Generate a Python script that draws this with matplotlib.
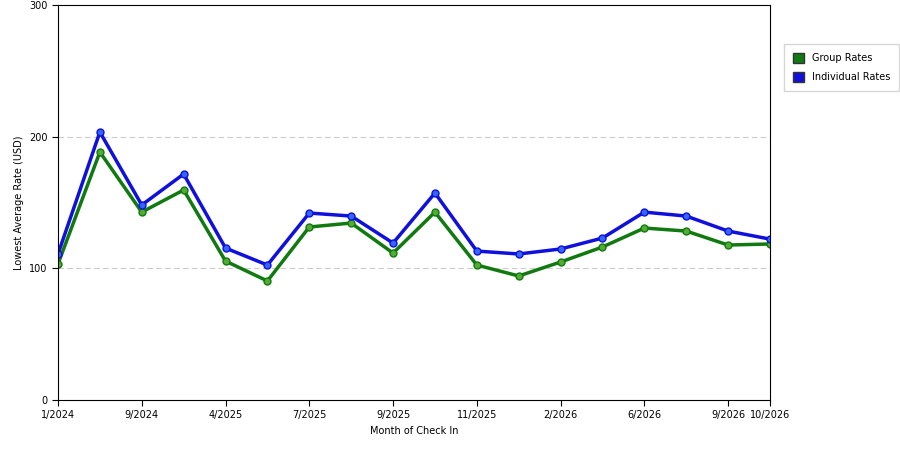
import matplotlib
matplotlib.use("Agg")
import matplotlib.pyplot as plt
from matplotlib.patches import Patch

x_idx = list(range(18))
tick_pos = [0, 2, 4, 6, 8, 10, 12, 14, 16, 17]
tick_labels = ["1/2024", "9/2024", "4/2025", "7/2025", "9/2025", "11/2025", "2/2026", "6/2026", "9/2026", "10/2026"]
group_rates = [103.3, 188.3, 142.7, 159.5, 105.5, 90.4, 131.4, 134.4, 111.6, 142.7, 102.5, 94.2, 104.8, 116.2, 130.6, 128.3, 117.7, 118.5]
indiv_rates = [110.9, 203.5, 148.1, 171.6, 115.4, 102.5, 142.0, 139.7, 119.2, 157.2, 113.1, 110.9, 114.7, 123.0, 142.7, 139.7, 128.3, 122.2]

fig = plt.figure(figsize=(9, 4.5), dpi=100)
ax = fig.add_axes([58/900, 50/450, 712/900, 395/450])
for y in (100, 200):
    ax.axhline(y, color="#cccccc", lw=0.8, ls=(0, (5, 3)), zorder=0)
ax.plot(x_idx, group_rates, color="#107a10", lw=2.5, marker="o", ms=5,
        mfc="#55aa33", mec="#107a10")
ax.plot(x_idx, indiv_rates, color="#1010dd", lw=2.5, marker="o", ms=5,
        mfc="#3366ff", mec="#1010dd")
ax.set_xlim(0, 17)
ax.set_ylim(0, 300)
ax.set_yticks([0, 100, 200, 300])
ax.set_xticks(tick_pos)
ax.set_xticklabels(tick_labels)
ax.tick_params(labelsize=7, length=4)
ax.set_xlabel("Month of Check In", fontsize=7)
ax.set_ylabel("Lowest Average Rate (USD)", fontsize=7)
fig.legend(handles=[Patch(facecolor="#107a10", edgecolor="#333333", label="Group Rates"),
                    Patch(facecolor="#1010dd", edgecolor="#333333", label="Individual Rates")],
           loc="upper left", bbox_to_anchor=(779/900, 1 - 39/450), fontsize=7,
           frameon=True, fancybox=False, edgecolor="#cccccc", handlelength=1.2, handleheight=1.2,
           labelspacing=0.9, borderpad=0.9)
fig.savefig("out.png")
